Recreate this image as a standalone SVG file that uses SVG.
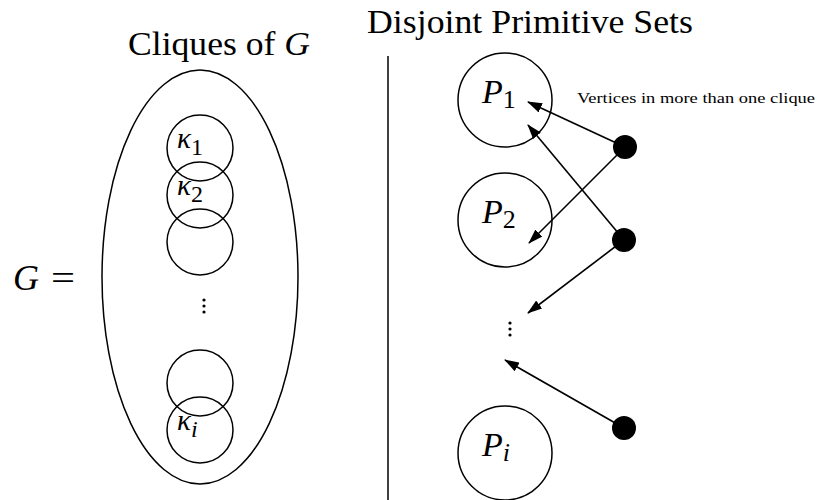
<svg xmlns="http://www.w3.org/2000/svg" width="820" height="500" viewBox="0 0 820 500">
<style>
.t{font-family:"Liberation Serif","DejaVu Serif",serif;fill:#000}
.m{font-style:italic}
.c{fill:none;stroke:#000;stroke-width:1.5}
.a{stroke:#000;stroke-width:1.6;fill:none;marker-end:url(#ah)}
.v{fill:#000}
</style>
<defs>
<marker id="ah" markerWidth="15" markerHeight="10" refX="14" refY="5" orient="auto" markerUnits="userSpaceOnUse"><path d="M0,0 L15,5 L0,10 z" fill="#000"/></marker>
</defs>
<rect width="820" height="500" fill="#fff"/>
<text class="t" x="128" y="55" font-size="33" textLength="182" lengthAdjust="spacingAndGlyphs">Cliques of <tspan class="m">G</tspan></text>
<text class="t" x="367" y="33" font-size="33" textLength="326" lengthAdjust="spacingAndGlyphs">Disjoint Primitive Sets</text>
<text class="t m" x="13" y="290" font-size="36">G</text>
<text class="t" x="51" y="290" font-size="36" textLength="24" lengthAdjust="spacingAndGlyphs">=</text>
<line x1="388" y1="56" x2="388" y2="500" stroke="#000" stroke-width="1.5"/>
<g id="graph">
<ellipse class="c" cx="200" cy="277" rx="98" ry="207"/>
</g>
<g id="k1"><circle class="c" cx="200" cy="148" r="33"/><text class="t m" x="177" y="148" font-size="29">κ<tspan font-style="normal" font-size="24" dy="7">1</tspan></text></g>
<g id="k2"><circle class="c" cx="200" cy="195" r="33"/><text class="t m" x="177" y="195" font-size="29">κ<tspan font-style="normal" font-size="24" dy="7">2</tspan></text></g>
<g id="k3"><circle class="c" cx="200" cy="242" r="33"/></g>
<g id="kdots"><circle class="v" cx="204" cy="300" r="1.6"/><circle class="v" cx="204" cy="306" r="1.6"/><circle class="v" cx="204" cy="312" r="1.6"/></g>
<g id="k4"><circle class="c" cx="200" cy="383" r="33"/></g>
<g id="ki"><circle class="c" cx="200" cy="430" r="33"/><text class="t m" x="177" y="430" font-size="29">κ<tspan font-size="24" dy="7">i</tspan></text></g>
<g id="p1"><circle class="c" cx="505" cy="100" r="47"/><text class="t m" x="482" y="103" font-size="34">P<tspan font-style="normal" font-size="26" dy="5">1</tspan></text></g>
<g id="p2"><circle class="c" cx="505" cy="220" r="47"/><text class="t m" x="482" y="223" font-size="34">P<tspan font-style="normal" font-size="26" dy="5">2</tspan></text></g>
<g id="pdots"><circle class="v" cx="510" cy="323" r="1.6"/><circle class="v" cx="510" cy="329" r="1.6"/><circle class="v" cx="510" cy="335" r="1.6"/></g>
<g id="pi"><circle class="c" cx="505" cy="453" r="47"/><text class="t m" x="482" y="456" font-size="34">P<tspan font-size="26" dy="5">i</tspan></text></g>
<text class="t" x="577" y="103" font-size="15" textLength="238" lengthAdjust="spacingAndGlyphs">Vertices in more than one clique</text>
<g id="connectors">
<line class="a" x1="625" y1="147" x2="528" y2="102"/>
<line class="a" x1="625" y1="147" x2="529" y2="243"/>
<line class="a" x1="624" y1="240" x2="528" y2="125"/>
<line class="a" x1="624" y1="240" x2="528" y2="313"/>
<line class="a" x1="624" y1="428" x2="505" y2="360"/>
</g>
<g id="v1"><circle class="v" cx="625" cy="147" r="12"/></g>
<g id="v2"><circle class="v" cx="624" cy="240" r="12"/></g>
<g id="v3"><circle class="v" cx="624" cy="428" r="12"/></g>
</svg>
